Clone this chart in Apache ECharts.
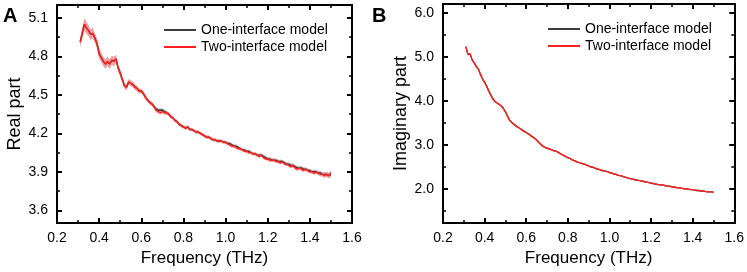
<!DOCTYPE html>
<html>
<head>
<meta charset="utf-8">
<script src="https://cdn.jsdelivr.net/npm/echarts@6/dist/echarts.min.js"></script>
<style>
html,body{margin:0;padding:0;background:#fff;}
#main{width:747px;height:272px;}
</style>
</head>
<body>
<div id="main"></div>
<script>
// 频率 (THz)
var freq = [0.31,0.32,0.33,0.34,0.35,0.36,0.37,0.38,0.39,0.40,
    0.41,0.42,0.43,0.44,0.45,0.46,0.47,0.48,0.49,0.50,
    0.51,0.52,0.53,0.54,0.55,0.56,0.57,0.58,0.59,0.60,
    0.61,0.62,0.63,0.64,0.65,0.66,0.67,0.68,0.69,0.70,
    0.71,0.72,0.73,0.74,0.75,0.76,0.77,0.78,0.79,0.80,
    0.81,0.82,0.83,0.84,0.85,0.86,0.87,0.88,0.89,0.90,
    0.91,0.92,0.93,0.94,0.95,0.96,0.97,0.98,0.99,1.00,
    1.01,1.02,1.03,1.04,1.05,1.06,1.07,1.08,1.09,1.10,
    1.11,1.12,1.13,1.14,1.15,1.16,1.17,1.18,1.19,1.20,
    1.21,1.22,1.23,1.24,1.25,1.26,1.27,1.28,1.29,1.30,
    1.31,1.32,1.33,1.34,1.35,1.36,1.37,1.38,1.39,1.40,
    1.41,1.42,1.43,1.44,1.45,1.46,1.47,1.48,1.49,1.50];

// 实部 - two-interface
var realTwo = [4.91,4.98,5.05,5.02,5.00,4.97,4.98,4.94,4.90,4.82,
    4.79,4.76,4.74,4.76,4.74,4.77,4.76,4.78,4.71,4.67,
    4.62,4.57,4.56,4.60,4.59,4.58,4.56,4.55,4.53,4.53,
    4.51,4.48,4.46,4.44,4.43,4.41,4.38,4.37,4.36,4.37,
    4.36,4.36,4.35,4.33,4.32,4.30,4.29,4.27,4.26,4.25,
    4.24,4.25,4.23,4.23,4.22,4.21,4.21,4.20,4.19,4.18,
    4.17,4.17,4.16,4.15,4.15,4.14,4.14,4.14,4.13,4.13,
    4.12,4.11,4.10,4.10,4.09,4.08,4.08,4.07,4.06,4.06,
    4.05,4.05,4.04,4.04,4.03,4.02,4.03,4.01,4.00,4.00,
    3.99,3.99,3.99,3.98,3.98,3.97,3.98,3.96,3.96,3.95,
    3.94,3.95,3.93,3.92,3.93,3.92,3.91,3.92,3.91,3.90,
    3.90,3.89,3.90,3.89,3.88,3.88,3.87,3.88,3.87,3.89];
// 实部 - one-interface
var realOne = [4.91,4.98,5.05,5.02,5.00,4.97,4.98,4.94,4.90,4.82,
    4.79,4.76,4.74,4.76,4.74,4.77,4.76,4.78,4.71,4.67,
    4.62,4.57,4.56,4.60,4.59,4.58,4.56,4.55,4.53,4.53,
    4.51,4.48,4.46,4.44,4.43,4.41,4.39,4.38,4.38,4.38,
    4.37,4.36,4.35,4.33,4.32,4.30,4.29,4.27,4.26,4.25,
    4.24,4.25,4.23,4.23,4.22,4.21,4.21,4.20,4.19,4.18,
    4.17,4.17,4.16,4.15,4.15,4.14,4.14,4.14,4.13,4.13,
    4.12,4.12,4.11,4.10,4.10,4.09,4.08,4.07,4.07,4.06,
    4.06,4.05,4.04,4.04,4.03,4.03,4.03,4.02,4.01,4.00,
    4.00,3.99,3.99,3.99,3.98,3.98,3.98,3.97,3.96,3.96,
    3.95,3.95,3.94,3.93,3.93,3.93,3.92,3.92,3.91,3.91,
    3.90,3.90,3.90,3.89,3.89,3.88,3.88,3.88,3.87,3.88];
// 阴影半宽
var realErr = [0.035,0.04,0.045,0.045,0.04,0.04,0.04,0.035,0.035,0.035,
    0.035,0.035,0.035,0.035,0.035,0.035,0.035,0.03,0.025,0.025,
    0.022,0.022,0.022,0.022,0.022,0.022,0.02,0.02,0.018,0.018,
    0.018,0.018,0.016,0.016,0.016,0.016,0.016,0.016,0.016,0.016,
    0.015,0.015,0.014,0.014,0.013,0.013,0.013,0.013,0.012,0.012,
    0.012,0.012,0.012,0.012,0.012,0.012,0.012,0.012,0.012,0.012,
    0.012,0.012,0.012,0.012,0.012,0.012,0.012,0.012,0.012,0.012,
    0.012,0.012,0.012,0.012,0.012,0.012,0.012,0.012,0.012,0.012,
    0.012,0.012,0.012,0.012,0.012,0.012,0.013,0.013,0.013,0.013,
    0.013,0.013,0.013,0.013,0.013,0.013,0.013,0.013,0.013,0.013,
    0.014,0.014,0.014,0.014,0.014,0.014,0.014,0.014,0.014,0.014,
    0.014,0.015,0.015,0.016,0.016,0.016,0.018,0.018,0.022,0.022];

// 虚部 - two-interface
var imagTwo = [5.23,5.05,5.07,4.93,4.86,4.78,4.72,4.60,4.50,4.42,
    4.33,4.22,4.13,4.04,3.98,3.95,3.92,3.88,3.83,3.75,
    3.65,3.56,3.51,3.47,3.43,3.40,3.37,3.33,3.30,3.28,
    3.25,3.21,3.18,3.15,3.11,3.06,3.01,2.97,2.94,2.92,
    2.91,2.89,2.87,2.86,2.84,2.81,2.78,2.76,2.73,2.71,
    2.69,2.66,2.64,2.62,2.60,2.59,2.57,2.56,2.54,2.52,
    2.50,2.49,2.47,2.45,2.44,2.42,2.41,2.40,2.39,2.37,
    2.36,2.34,2.33,2.31,2.30,2.29,2.27,2.26,2.24,2.23,
    2.22,2.21,2.19,2.19,2.18,2.17,2.16,2.15,2.14,2.13,
    2.12,2.11,2.10,2.09,2.09,2.08,2.07,2.06,2.06,2.04,
    2.04,2.03,2.02,2.02,2.01,2.00,2.00,1.99,1.98,1.98,
    1.97,1.96,1.96,1.95,1.95,1.94,1.93,1.93,1.93,1.92];
// 虚部 - one-interface
var imagOne = [5.23,5.05,5.07,4.93,4.86,4.78,4.72,4.60,4.50,4.42,
    4.33,4.22,4.13,4.04,3.98,3.95,3.92,3.88,3.83,3.75,
    3.65,3.56,3.51,3.47,3.43,3.40,3.37,3.34,3.31,3.28,
    3.25,3.22,3.18,3.15,3.11,3.06,3.01,2.97,2.94,2.92,
    2.91,2.89,2.87,2.86,2.84,2.81,2.78,2.76,2.73,2.71,
    2.69,2.66,2.64,2.62,2.60,2.59,2.57,2.56,2.54,2.52,
    2.50,2.49,2.47,2.45,2.44,2.42,2.41,2.40,2.39,2.37,
    2.36,2.34,2.33,2.31,2.30,2.29,2.27,2.26,2.24,2.23,
    2.22,2.21,2.20,2.19,2.18,2.17,2.16,2.15,2.14,2.13,
    2.12,2.11,2.10,2.09,2.09,2.08,2.07,2.06,2.06,2.05,
    2.04,2.03,2.02,2.02,2.01,2.00,2.00,1.99,1.98,1.98,
    1.97,1.96,1.96,1.95,1.95,1.94,1.93,1.93,1.93,1.92];

// 刻度
var realTicks = [3.6, 3.9, 4.2, 4.5, 4.8, 5.1];
var realMinor = [3.75, 4.05, 4.35, 4.65, 4.95];
var imagTicks = [2, 3, 4, 5, 6];
var imagMinor = [1.5, 2.5, 3.5, 4.5, 5.5];

var FONT = 'Liberation Sans, Arial, sans-serif';
var myChart = echarts.init(document.getElementById('main'));

function pairs(ys) {
    var out = [];
    for (var i = 0; i < freq.length; i++) out.push([freq[i], ys[i]]);
    return out;
}
// 误差带数据 [x, 下界, 上界]
function bandData(ys, es) {
    var out = [];
    for (var i = 0; i < freq.length; i++) out.push([freq[i], ys[i] - es[i], ys[i] + es[i]]);
    return out;
}

function xAxes(g, nm) {
    var base = {
        gridIndex: g, type: 'value', min: 0.2, max: 1.6, interval: 0.2,
        axisLine: { show: true, onZero: false, lineStyle: { color: '#000', width: 2 } },
        axisTick: { show: true, inside: true, length: 5, lineStyle: { color: '#000', width: 2 } },
        minorTick: { show: true, splitNumber: 2, length: 3, lineStyle: { color: '#000', width: 1.5 } },
        splitLine: { show: false }
    };
    var bottom = echarts.util.merge({
        position: 'bottom',
        name: nm, nameLocation: 'middle', nameGap: 24,
        nameTextStyle: { fontFamily: FONT, fontSize: 17, color: '#000' },
        axisLabel: { show: true, margin: 8, fontFamily: FONT, fontSize: 14, color: '#000',
            formatter: function (v) { return v.toFixed(1); } }
    }, base, true);
    var top = echarts.util.merge({ position: 'top', axisLabel: { show: false } }, base, true);
    return [bottom, top];
}

function yAxes(g, min, max, ticks, minor, nm) {
    var base = {
        gridIndex: g, type: 'value', min: min, max: max,
        axisLine: { show: true, onZero: false, lineStyle: { color: '#000', width: 2 } },
        splitLine: { show: false }
    };
    var leftMain = echarts.util.merge({
        position: 'left',
        name: nm, nameLocation: 'middle', nameGap: 33,
        nameTextStyle: { fontFamily: FONT, fontSize: 18, color: '#000' },
        axisTick: { show: true, inside: true, length: 5, customValues: ticks, lineStyle: { color: '#000', width: 2 } },
        axisLabel: { show: true, margin: 9, fontFamily: FONT, fontSize: 14, color: '#000', customValues: ticks,
            formatter: function (v) { return v.toFixed(1); } }
    }, base, true);
    var leftMinor = echarts.util.merge({
        position: 'left',
        axisTick: { show: true, inside: true, length: 3, customValues: minor, lineStyle: { color: '#000', width: 1.5 } },
        axisLabel: { show: false }
    }, base, true);
    var rightMain = echarts.util.merge({
        position: 'right',
        axisTick: { show: true, inside: true, length: 5, customValues: ticks, lineStyle: { color: '#000', width: 2 } },
        axisLabel: { show: false }
    }, base, true);
    var rightMinor = echarts.util.merge({
        position: 'right',
        axisTick: { show: true, inside: true, length: 3, customValues: minor, lineStyle: { color: '#000', width: 1.5 } },
        axisLabel: { show: false }
    }, base, true);
    return [leftMain, leftMinor, rightMain, rightMinor];
}

var GRAY = '#3c3c3c', RED = '#ff2020';

function bandSeries(xi, yi, ys, es, color) {
    var d = bandData(ys, es);
    return {
        type: 'custom', xAxisIndex: xi, yAxisIndex: yi, data: d, silent: true, z: 1, clip: true,
        encode: { x: 0, y: [1, 2] },
        renderItem: function (params, api) {
            if (params.dataIndex !== 0) return null;
            var pts = [], i;
            for (i = 0; i < d.length; i++) pts.push(api.coord([d[i][0], d[i][2]]));
            for (i = d.length - 1; i >= 0; i--) pts.push(api.coord([d[i][0], d[i][1]]));
            return { type: 'polygon', shape: { points: pts }, style: { fill: color } };
        }
    };
}

function lineSeries(name, xi, yi, ys, color, z) {
    return {
        name: name, type: 'line', xAxisIndex: xi, yAxisIndex: yi,
        data: pairs(ys), symbol: 'none', showSymbol: false,
        lineStyle: { color: color, width: 1.4 }, itemStyle: { color: color }, z: z
    };
}

var xs = xAxes(0, 'Frequency (THz)').concat(xAxes(1, 'Frequency (THz)'));
var ysAx = yAxes(0, 3.5, 5.2, realTicks, realMinor, 'Real part')
    .concat(yAxes(1, 1.22, 6.2, imagTicks, imagMinor, 'Imaginary part'));

var series = [
    bandSeries(0, 0, realOne, realErr, 'rgba(120,120,120,0.55)'),
    lineSeries('One-interface model', 0, 0, realOne, GRAY, 2),
    bandSeries(0, 0, realTwo, realErr, '#f3a3a3'),
    lineSeries('Two-interface model', 0, 0, realTwo, RED, 3),
    lineSeries('One-interface model', 2, 4, imagOne, GRAY, 2),
    lineSeries('Two-interface model', 2, 4, imagTwo, RED, 3)
];

var legendBase = {
    orient: 'vertical', itemWidth: 32, itemHeight: 14, itemGap: 3,
    data: ['One-interface model', 'Two-interface model'],
    itemStyle: { opacity: 0 },
    textStyle: { fontFamily: FONT, fontSize: 14, color: '#000' },
    selectedMode: false
};

option = {
    backgroundColor: '#fff',
    animation: false,
    grid: [
        { left: 57, right: 395, top: 5, bottom: 48 },
        { left: 443, right: 12, top: 4, bottom: 48 }
    ],
    xAxis: xs,
    yAxis: ysAx,
    legend: [
        echarts.util.merge({ left: 158, top: 18 }, legendBase, true),
        echarts.util.merge({ left: 542, top: 17 }, legendBase, true)
    ],
    title: [
        { text: 'A', left: -2, top: 1, textStyle: { fontFamily: FONT, fontSize: 20, fontWeight: 'bold', color: '#000' } },
        { text: 'B', left: 367, top: 1, textStyle: { fontFamily: FONT, fontSize: 20, fontWeight: 'bold', color: '#000' } }
    ],
    series: series
};

myChart.setOption(option);
</script>
</body>
</html>
